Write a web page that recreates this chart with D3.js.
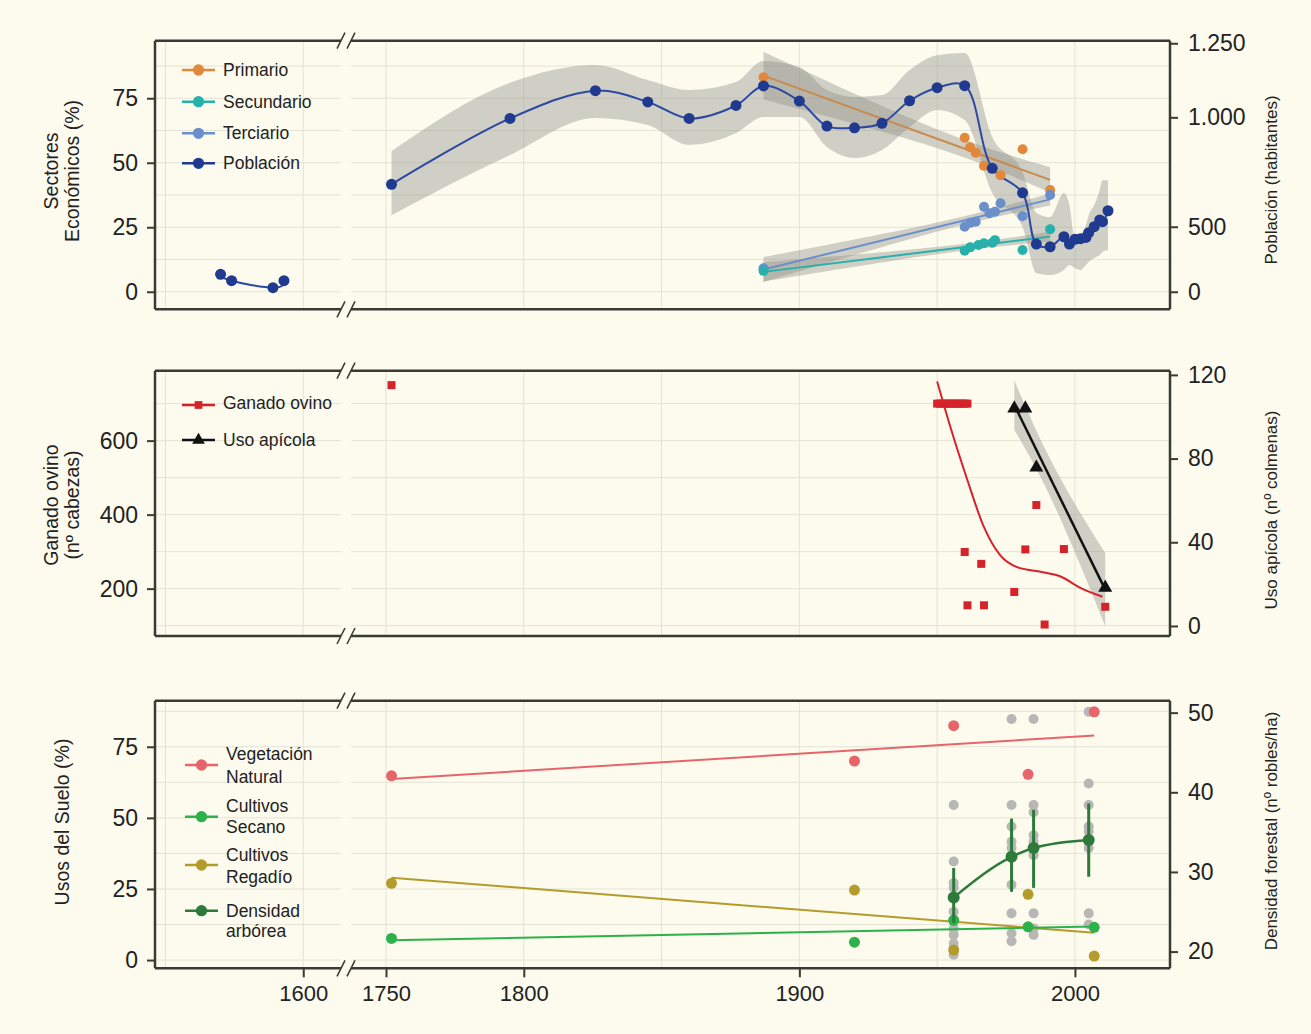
<!DOCTYPE html>
<html lang="es">
<head>
<meta charset="UTF-8">
<title>Sectores, ganado y usos del suelo</title>
<style>
  body { margin: 0; background: #fcfbee; }
  svg { display: block; }
</style>
</head>
<body>
<div id="chart"></div>
<script src="https://cdn.jsdelivr.net/npm/d3@7/dist/d3.min.js"></script>
<script>
// ---- data ----
// población (habitantes)
var popYears = [1570, 1574, 1589, 1593,
  1752, 1795, 1826, 1845, 1860, 1877, 1887, 1900, 1910, 1920, 1930, 1940, 1950, 1960,
  1970, 1981, 1986, 1991, 1996, 1998, 2000, 2002, 2004, 2005, 2007, 2009, 2010, 2012];
var popValues = [134, 85, 31, 85,
  694, 995, 1090, 1052, 995, 1040, 1106, 1055, 960, 952, 973, 1056, 1100, 1107,
  767, 655, 367, 346, 423, 367, 403, 408, 418, 454, 500, 531, 523, 573];
// confidence band of the smoothed población curve (from 1752 on)
var popLow = [553, 828, 997, 965, 874, 928, 1001, 1001, 864, 814, 851, 955, 1025, 988,
  654, 498, 144, 128, 167, 205, 182, 167, 205, 228, 259, 282, 305, 321];
var popHigh = [846, 1117, 1177, 1126, 1092, 1119, 1190, 1170, 1092, 1069, 1075, 1160, 1210, 1217,
  910, 750, 563, 544, 654, 599, 398, 436, 508, 553, 599, 668, 713, 713];

// sectores económicos (%)
var primYears = [1887, 1960, 1962, 1964, 1967, 1973, 1981, 1991];
var primValues = [83.1, 59.7, 56.0, 53.9, 48.8, 45.2, 55.2, 39.4];
var secYears = [1887, 1960, 1962, 1965, 1967, 1970, 1971, 1981, 1991];
var secValues = [8.1, 15.9, 17.2, 18.1, 18.8, 19.0, 20.0, 16.2, 24.2];
var terYears = [1887, 1960, 1962, 1964, 1967, 1969, 1971, 1973, 1981, 1991];
var terValues = [9.1, 25.2, 26.7, 27.1, 32.9, 30.4, 31.0, 34.3, 29.3, 37.5];

// ganado ovino (nº cabezas)
var ovinoYears = [1752, 1950, 1951, 1952, 1953, 1954, 1955, 1956, 1957, 1958, 1959, 1960, 1961,
  1960, 1961, 1966, 1967, 1978, 1982, 1986, 1989, 1996, 2011];
var ovinoValues = [750, 700, 700, 700, 700, 700, 700, 700, 700, 700, 700, 700, 700,
  299, 155, 267, 155, 191, 306, 426, 103, 307, 151];
var ovinoSmoothYears = [1950, 1955, 1961, 1967, 1973, 1979, 1988, 1995, 2002, 2010];
var ovinoSmooth = [760, 632, 493, 366, 289, 258, 245, 232, 202, 178];

// uso apícola (nº colmenas)
var apiYears = [1978, 1982, 1986, 2011];
var apiValues = [104, 104, 75.7, 18.3];

// usos del suelo (%)
var vegYears = [1752, 1920, 1956, 1983, 2007];
var vegValues = [64.8, 70.0, 82.4, 65.3, 87.3];
var secanoYears = [1752, 1920, 1956, 1983, 2007];
var secanoValues = [7.6, 6.3, 14.0, 11.7, 11.5];
var regadioYears = [1752, 1920, 1956, 1983, 2007];
var regadioValues = [27.0, 24.6, 3.5, 23.1, 1.4];

// densidad forestal (nº robles/ha)
var densYears = [1956, 1977, 1985, 2005];
var densMean = [26.8, 31.9, 33.0, 34.0];
var densLow = [23.6, 27.5, 28.0, 29.4];
var densHigh = [30.5, 36.7, 37.8, 38.6];
var densPlots = [
  [38.4, 31.3, 28.6, 28.0, 25.0, 23.8, 22.9, 22.1, 21.0, 20.4, 19.6],
  [49.2, 38.4, 35.7, 33.8, 33.0, 28.4, 24.8, 22.3, 21.3],
  [49.2, 38.4, 37.5, 34.6, 33.8, 32.1, 24.8, 22.9, 22.1],
  [50.1, 41.1, 38.4, 35.7, 35.1, 33.0, 24.8, 23.4]
];

// axes
var xTicksLeft = [1600];
var xTicksRight = [1750, 1800, 1900, 2000];
var sectorTicks = [0, 25, 50, 75];
var popTicks = [0, 500, 1000, 1250];
var popTickLabels = ["0", "500", "1.000", "1.250"];
var ovinoTicks = [200, 400, 600];
var apiTicks = [0, 40, 80, 120];
var sueloTicks = [0, 25, 50, 75];
var densTicks = [20, 30, 40, 50];

// ---- layout ----
var W = 1311, H = 1034;
var FONT = "'Liberation Sans', Arial, Helvetica, sans-serif";
var X0 = 155, XB0 = 341, XB1 = 351, X1 = 1170;
var panels = [
  { top: 40.7, bottom: 309.3 },
  { top: 370.7, bottom: 636 },
  { top: 700.7, bottom: 968.3 }
];

var col = {
  prim: "#e2883a", primLine: "#c98a4c",
  sec: "#27b1aa", ter: "#6b8fcb", pop: "#1f3a8e", popLine: "#2c48a0",
  ovino: "#d6232b", api: "#111111",
  veg: "#e8646b", secano: "#2db14b", regadio: "#b39c2c", dens: "#2e7a3b",
  plot: "#b7b7b5", band: "#8f8f86", grid: "#e4e3d6", frame: "#3a3a35", text: "#222"
};

var svg = d3.select("#chart").append("svg")
  .attr("width", W).attr("height", H)
  .style("background", "#fcfbee")
  .attr("font-family", FONT);

// x scales with a break between the two segments
var xLeft = d3.scaleLinear().domain([1546.2, 1613.7]).range([X0, XB0]);
var xRight = d3.scaleLinear().domain([1737.3, 2034.5]).range([XB1, X1]);
function xOf(yr) { return yr < 1700 ? xLeft(yr) : xRight(yr); }

// y scales
var ySec = d3.scaleLinear().domain([-6.8, 97.3]).range([panels[0].bottom, panels[0].top]);
// the población axis is not linear; each tick sits at a fixed % of the left axis
var yPop = d3.scaleLinear().domain(popTicks).range([0, 25.2, 67.6, 96.3].map(ySec));
var yOvino = d3.scaleLinear().domain([72, 789]).range([panels[1].bottom, panels[1].top]);
var yApi = d3.scaleLinear().domain([-4.8, 122]).range([panels[1].bottom, panels[1].top]);
var ySuelo = d3.scaleLinear().domain([-2.9, 91.2]).range([panels[2].bottom, panels[2].top]);
var yDens = d3.scaleLinear().domain([17.9, 51.5]).range([panels[2].bottom, panels[2].top]);

// ---- helpers ----
function lm(xs, ys) {
  var n = xs.length, mx = d3.mean(xs), my = d3.mean(ys);
  var sxx = d3.sum(xs, function(x) { return (x - mx) * (x - mx); });
  var sxy = d3.sum(xs, function(x, i) { return (x - mx) * (ys[i] - my); });
  var b = sxy / sxx, a = my - b * mx;
  var ssr = d3.sum(xs, function(x, i) { var r = ys[i] - (a + b * x); return r * r; });
  var s = Math.sqrt(ssr / (n - 2));
  return { x0: d3.min(xs), x1: d3.max(xs),
    at: function(x) { return a + b * x; },
    se: function(x) { return s * Math.sqrt(1 / n + (x - mx) * (x - mx) / sxx); } };
}
function bandPoints(fit) {
  return d3.range(0, 41).map(function(i) {
    var x = fit.x0 + (fit.x1 - fit.x0) * i / 40;
    var m = fit.at(x), e = 2 * fit.se(x);
    return { x: x, lo: m - e, hi: m + e };
  });
}

function drawGrid(p, yScale, vals) {
  var g = svg.append("g").attr("stroke", col.grid).attr("stroke-width", 1);
  vals.forEach(function(v) {
    var y = yScale(v);
    g.append("line").attr("x1", X0).attr("x2", XB0).attr("y1", y).attr("y2", y);
    g.append("line").attr("x1", XB1).attr("x2", X1).attr("y1", y).attr("y2", y);
  });
  [1550, 1600].forEach(function(v) {
    g.append("line").attr("x1", xLeft(v)).attr("x2", xLeft(v)).attr("y1", p.top).attr("y2", p.bottom);
  });
  [1750, 1800, 1850, 1900, 1950, 2000].forEach(function(v) {
    g.append("line").attr("x1", xRight(v)).attr("x2", xRight(v)).attr("y1", p.top).attr("y2", p.bottom);
  });
}

function drawFrame(p) {
  var g = svg.append("g").attr("stroke", col.frame).attr("fill", "none");
  [p.top, p.bottom].forEach(function(y) {
    g.append("line").attr("x1", X0).attr("x2", XB0).attr("y1", y).attr("y2", y).attr("stroke-width", 2.5);
    g.append("line").attr("x1", XB1).attr("x2", X1).attr("y1", y).attr("y2", y).attr("stroke-width", 2.5);
    [XB0, XB1].forEach(function(x) {
      g.append("line").attr("x1", x - 4).attr("x2", x + 4).attr("y1", y + 8).attr("y2", y - 8)
        .attr("stroke-width", 1.6);
    });
  });
  g.append("line").attr("x1", X0).attr("x2", X0).attr("y1", p.top).attr("y2", p.bottom).attr("stroke-width", 2.5);
  g.append("line").attr("x1", X1).attr("x2", X1).attr("y1", p.top).attr("y2", p.bottom).attr("stroke-width", 2.5);
}

function styleAxis(g, size) {
  g.select(".domain").remove();
  g.selectAll(".tick line").attr("stroke", col.frame).attr("stroke-width", 2);
  g.selectAll(".tick text").attr("font-size", size).attr("fill", col.text).attr("font-family", FONT);
}

function yTitle(lines, x0, yc, size, gap) {
  lines.forEach(function(t, i) {
    svg.append("text")
      .attr("transform", "translate(" + (x0 + i * gap) + "," + yc + ") rotate(-90)")
      .attr("text-anchor", "middle").attr("font-size", size).attr("fill", col.text)
      .text(t);
  });
}

function legendRow(x, y, color, shape, labelLines, ly) {
  var g = svg.append("g");
  g.append("line").attr("x1", x).attr("x2", x + 33).attr("y1", y).attr("y2", y)
    .attr("stroke", color).attr("stroke-width", 2.5);
  g.append("path").attr("transform", "translate(" + (x + 16.5) + "," + y + ")")
    .attr("d", d3.symbol().type(shape).size(shape === d3.symbolSquare ? 60 : (shape === d3.symbolTriangle ? 70 : 100))())
    .attr("fill", color);
  labelLines.forEach(function(t, i) {
    g.append("text").attr("x", x + 41).attr("y", ly[i]).attr("dy", "0.35em")
      .attr("font-size", 17.5).attr("fill", col.text).text(t);
  });
}

function dots(xs, ys, yScale, color, r) {
  svg.append("g").selectAll("circle").data(xs).join("circle")
    .attr("cx", function(d) { return xOf(d); })
    .attr("cy", function(d, i) { return yScale(ys[i]); })
    .attr("r", r).attr("fill", color);
}

function fitLine(xs, ys, yScale, color, width) {
  var f = lm(xs, ys);
  svg.append("line")
    .attr("x1", xRight(f.x0)).attr("x2", xRight(f.x1))
    .attr("y1", yScale(f.at(f.x0))).attr("y2", yScale(f.at(f.x1)))
    .attr("stroke", color).attr("stroke-width", width);
}

function fitBand(xs, ys, yScale) {
  var f = lm(xs, ys);
  svg.append("path").datum(bandPoints(f))
    .attr("d", d3.area()
      .x(function(d) { return xRight(d.x); })
      .y0(function(d) { return yScale(d.lo); })
      .y1(function(d) { return yScale(d.hi); }))
    .attr("fill", col.band).attr("fill-opacity", 0.4);
}

// ================= panel 1: sectores + población =================
drawGrid(panels[0], ySec, d3.range(0, 95, 12.5));

var popLeft = popYears.map(function(y, i) { return { x: y, v: popValues[i] }; }).filter(function(d) { return d.x < 1700; });
var popRight = popYears.map(function(y, i) { return { x: y, v: popValues[i] }; }).filter(function(d) { return d.x > 1700; });
popRight.forEach(function(d, i) { d.lo = popLow[i]; d.hi = popHigh[i]; });

svg.append("path").datum(popRight)
  .attr("d", d3.area().curve(d3.curveMonotoneX)
    .x(function(d) { return xRight(d.x); })
    .y0(function(d) { return yPop(d.lo); })
    .y1(function(d) { return yPop(d.hi); }))
  .attr("fill", col.band).attr("fill-opacity", 0.4);

fitBand(primYears, primValues, ySec);
fitBand(secYears, secValues, ySec);
fitBand(terYears, terValues, ySec);

fitLine(primYears, primValues, ySec, col.primLine, 2);
fitLine(secYears, secValues, ySec, col.sec, 2);
fitLine(terYears, terValues, ySec, col.ter, 2);

svg.append("path").datum(popLeft)
  .attr("d", d3.line().curve(d3.curveNatural)
    .x(function(d) { return xLeft(d.x); }).y(function(d) { return yPop(d.v); }))
  .attr("fill", "none").attr("stroke", col.popLine).attr("stroke-width", 2);
svg.append("path").datum(popRight)
  .attr("d", d3.line().curve(d3.curveCatmullRom.alpha(0.5))
    .x(function(d) { return xRight(d.x); }).y(function(d) { return yPop(d.v); }))
  .attr("fill", "none").attr("stroke", col.popLine).attr("stroke-width", 2);

dots(primYears, primValues, ySec, col.prim, 5);
dots(terYears, terValues, ySec, col.ter, 5);
dots(secYears, secValues, ySec, col.sec, 5);
dots(popYears, popValues, yPop, col.pop, 5.5);

drawFrame(panels[0]);
styleAxis(svg.append("g").attr("transform", "translate(" + X0 + ",0)")
  .call(d3.axisLeft(ySec).tickValues(sectorTicks).tickSize(8).tickPadding(9)), 23);
styleAxis(svg.append("g").attr("transform", "translate(" + X1 + ",0)")
  .call(d3.axisRight(yPop).tickValues(popTicks).tickSize(8).tickPadding(10)
    .tickFormat(function(d, i) { return popTickLabels[i]; })), 23);

yTitle(["Sectores", "Económicos (%)"], 58, 171, 19.5, 21);
yTitle(["Población (habitantes)"], 1277, 180, 17, 0);

legendRow(182, 70, col.prim, d3.symbolCircle, ["Primario"], [70]);
legendRow(182, 101.7, col.sec, d3.symbolCircle, ["Secundario"], [101.7]);
legendRow(182, 133.3, col.ter, d3.symbolCircle, ["Terciario"], [133.3]);
legendRow(182, 163.3, col.pop, d3.symbolCircle, ["Población"], [163.3]);

// ================= panel 2: ganado ovino + uso apícola =================
drawGrid(panels[1], yOvino, d3.range(100, 800, 100));

fitBand(apiYears, apiValues, yApi);
fitLine(apiYears, apiValues, yApi, col.api, 2.5);

svg.append("path").datum(ovinoSmoothYears)
  .attr("d", d3.line().curve(d3.curveMonotoneX)
    .x(function(d) { return xRight(d); })
    .y(function(d, i) { return yOvino(ovinoSmooth[i]); }))
  .attr("fill", "none").attr("stroke", col.ovino).attr("stroke-width", 2);

svg.append("g").selectAll("rect").data(ovinoYears).join("rect")
  .attr("x", function(d) { return xRight(d) - 4; })
  .attr("y", function(d, i) { return yOvino(ovinoValues[i]) - 4; })
  .attr("width", 8).attr("height", 8).attr("fill", col.ovino);

svg.append("g").selectAll("path").data(apiYears).join("path")
  .attr("transform", function(d, i) { return "translate(" + xRight(d) + "," + yApi(apiValues[i]) + ")"; })
  .attr("d", d3.symbol().type(d3.symbolTriangle).size(85)())
  .attr("fill", col.api);

drawFrame(panels[1]);
styleAxis(svg.append("g").attr("transform", "translate(" + X0 + ",0)")
  .call(d3.axisLeft(yOvino).tickValues(ovinoTicks).tickSize(8).tickPadding(9)), 23);
styleAxis(svg.append("g").attr("transform", "translate(" + X1 + ",0)")
  .call(d3.axisRight(yApi).tickValues(apiTicks).tickSize(8).tickPadding(10)), 23);

yTitle(["Ganado ovino", "(nº cabezas)"], 58, 505, 19.5, 21);
yTitle(["Uso apícola (nº colmenas)"], 1277, 510, 17, 0);

legendRow(182, 405, col.ovino, d3.symbolSquare, ["Ganado ovino"], [403]);
legendRow(182, 440, col.api, d3.symbolTriangle, ["Uso apícola"], [440]);

// ================= panel 3: usos del suelo + densidad =================
drawGrid(panels[2], ySuelo, d3.range(0, 90, 12.5));

// individual plots (grey)
var plotPts = [];
densPlots.forEach(function(vals, i) {
  vals.forEach(function(v) { plotPts.push({ x: densYears[i], v: v }); });
});
svg.append("g").selectAll("circle").data(plotPts).join("circle")
  .attr("cx", function(d) { return xRight(d.x); })
  .attr("cy", function(d) { return yDens(d.v); })
  .attr("r", 5).attr("fill", col.plot);

fitLine(vegYears, vegValues, ySuelo, col.veg, 2);
fitLine(regadioYears, regadioValues, ySuelo, col.regadio, 2);
fitLine(secanoYears, secanoValues, ySuelo, col.secano, 2);

dots(vegYears, vegValues, ySuelo, col.veg, 5.5);
dots(regadioYears, regadioValues, ySuelo, col.regadio, 5.5);
dots(secanoYears, secanoValues, ySuelo, col.secano, 5.5);

svg.append("g").selectAll("line").data(densYears).join("line")
  .attr("x1", function(d) { return xRight(d); }).attr("x2", function(d) { return xRight(d); })
  .attr("y1", function(d, i) { return yDens(densLow[i]); })
  .attr("y2", function(d, i) { return yDens(densHigh[i]); })
  .attr("stroke", col.dens).attr("stroke-width", 3);
svg.append("path").datum(densYears)
  .attr("d", d3.line().curve(d3.curveMonotoneX)
    .x(function(d) { return xRight(d); })
    .y(function(d, i) { return yDens(densMean[i]); }))
  .attr("fill", "none").attr("stroke", col.dens).attr("stroke-width", 2.5);
dots(densYears, densMean, yDens, col.dens, 6);

drawFrame(panels[2]);
styleAxis(svg.append("g").attr("transform", "translate(" + X0 + ",0)")
  .call(d3.axisLeft(ySuelo).tickValues(sueloTicks).tickSize(8).tickPadding(9)), 23);
styleAxis(svg.append("g").attr("transform", "translate(" + X1 + ",0)")
  .call(d3.axisRight(yDens).tickValues(densTicks).tickSize(8).tickPadding(10)), 23);

var xb = panels[2].bottom;
styleAxis(svg.append("g").attr("transform", "translate(0," + xb + ")")
  .call(d3.axisBottom(xLeft).tickValues(xTicksLeft).tickSize(9).tickPadding(8).tickFormat(d3.format("d"))), 22);
styleAxis(svg.append("g").attr("transform", "translate(0," + xb + ")")
  .call(d3.axisBottom(xRight).tickValues(xTicksRight).tickSize(9).tickPadding(8).tickFormat(d3.format("d"))), 22);

yTitle(["Usos del Suelo (%)"], 69, 822, 19.5, 0);
yTitle(["Densidad forestal (nº robles/ha)"], 1277, 831, 17, 0);

legendRow(185, 765, col.veg, d3.symbolCircle, ["Vegetación", "Natural"], [754, 776.7]);
legendRow(185, 816.7, col.secano, d3.symbolCircle, ["Cultivos", "Secano"], [805.7, 827.3]);
legendRow(185, 865, col.regadio, d3.symbolCircle, ["Cultivos", "Regadío"], [855, 877.3]);
legendRow(185, 910.7, col.dens, d3.symbolCircle, ["Densidad", "arbórea"], [911, 930.7]);
</script>
</body>
</html>
